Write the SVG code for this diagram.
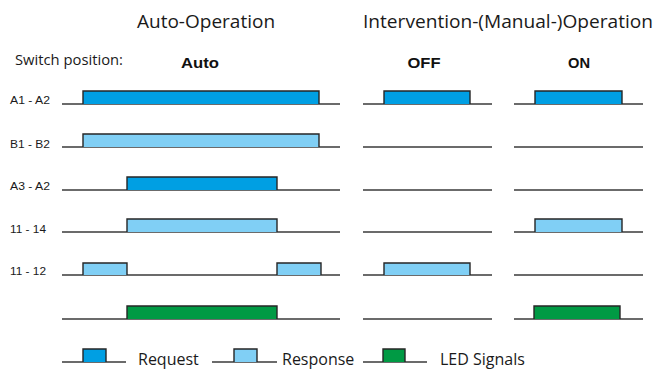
<svg xmlns="http://www.w3.org/2000/svg" width="662" height="369" viewBox="0 0 662 369">
<style>
.base{stroke:#3a3a3a;stroke-width:1.4;fill:none}
.p{stroke:#262626;stroke-width:1.4;stroke-linejoin:miter}
.req{fill:#009FE3}
.res{fill:#80CFF5}
.led{fill:#009A44}
.title{font-family:"Open Sans","DejaVu Sans",sans-serif;font-size:19px;fill:#1a1a1a}
.lbl{font-family:"Liberation Sans",Arial,sans-serif;font-size:11px;fill:#1a1a1a}
.hdr{font-family:"Liberation Sans",Arial,sans-serif;font-size:14px;font-weight:bold;fill:#111}
.leg{font-family:"Open Sans","DejaVu Sans",sans-serif;font-size:16px;fill:#1a1a1a}
.sw{font-family:"Open Sans","DejaVu Sans",sans-serif;font-size:14.5px;fill:#1a1a1a}
</style>
<g id="titles">
<text class="title" x="137" y="28">Auto-Operation</text>
<text class="title" x="363" y="28" textLength="290" lengthAdjust="spacingAndGlyphs">Intervention-(Manual-)Operation</text>
<text class="sw" x="15" y="65" textLength="108" lengthAdjust="spacingAndGlyphs">Switch position:</text>
<text class="hdr" x="200" y="68" text-anchor="middle" textLength="38" lengthAdjust="spacingAndGlyphs">Auto</text>
<text class="hdr" x="424" y="68" text-anchor="middle" textLength="33" lengthAdjust="spacingAndGlyphs">OFF</text>
<text class="hdr" x="579" y="68" text-anchor="middle" textLength="22" lengthAdjust="spacingAndGlyphs">ON</text>
</g>
<g id="row-a1a2">
<text class="lbl" x="10" y="104" textLength="40" lengthAdjust="spacingAndGlyphs">A1 - A2</text>
<line class="base" x1="62" y1="104" x2="340" y2="104"/>
<path class="p req" d="M83 104V91H319V104"/>
<line class="base" x1="363" y1="104" x2="492" y2="104"/>
<path class="p req" d="M384 104V91H470V104"/>
<line class="base" x1="514" y1="104" x2="643" y2="104"/>
<path class="p req" d="M535 104V91H622V104"/>
</g>
<g id="row-b1b2">
<text class="lbl" x="10" y="148" textLength="40" lengthAdjust="spacingAndGlyphs">B1 - B2</text>
<line class="base" x1="62" y1="147" x2="340" y2="147"/>
<path class="p res" d="M83 147V134H319V147"/>
<line class="base" x1="363" y1="147" x2="492" y2="147"/>
<line class="base" x1="514" y1="147" x2="643" y2="147"/>
</g>
<g id="row-a3a2">
<text class="lbl" x="10" y="190" textLength="40" lengthAdjust="spacingAndGlyphs">A3 - A2</text>
<line class="base" x1="62" y1="190" x2="340" y2="190"/>
<path class="p req" d="M127 190V177H277V190"/>
<line class="base" x1="363" y1="190" x2="492" y2="190"/>
<line class="base" x1="514" y1="190" x2="643" y2="190"/>
</g>
<g id="row-1114">
<text class="lbl" x="10" y="233" textLength="36" lengthAdjust="spacingAndGlyphs">11 - 14</text>
<line class="base" x1="62" y1="232" x2="340" y2="232"/>
<path class="p res" d="M127 232V219H277V232"/>
<line class="base" x1="363" y1="232" x2="492" y2="232"/>
<line class="base" x1="514" y1="232" x2="643" y2="232"/>
<path class="p res" d="M535 232V219H622V232"/>
</g>
<g id="row-1112">
<text class="lbl" x="10" y="275" textLength="36" lengthAdjust="spacingAndGlyphs">11 - 12</text>
<line class="base" x1="62" y1="275" x2="340" y2="275"/>
<path class="p res" d="M83 275V263H127V275"/>
<path class="p res" d="M277 275V263H321V275"/>
<line class="base" x1="363" y1="275" x2="492" y2="275"/>
<path class="p res" d="M384 275V263H470V275"/>
<line class="base" x1="514" y1="275" x2="643" y2="275"/>
</g>
<g id="row-led">
<line class="base" x1="62" y1="319" x2="340" y2="319"/>
<path class="p led" d="M127 319V306H277V319"/>
<line class="base" x1="363" y1="319" x2="492" y2="319"/>
<line class="base" x1="514" y1="319" x2="643" y2="319"/>
<path class="p led" d="M534 319V306H620V319"/>
</g>
<g id="legend">
<line class="base" x1="62" y1="362" x2="126" y2="362"/>
<path class="p req" d="M83 362V349H106V362"/>
<text class="leg" x="138" y="365">Request</text>
<line class="base" x1="212" y1="362" x2="277" y2="362"/>
<path class="p res" d="M234 362V349H257V362"/>
<text class="leg" x="282" y="365">Response</text>
<line class="base" x1="363" y1="362" x2="427" y2="362"/>
<path class="p led" d="M383 362V349H405V362"/>
<text class="leg" x="440" y="365">LED Signals</text>
</g>
<g id="connectors"></g>
</svg>
